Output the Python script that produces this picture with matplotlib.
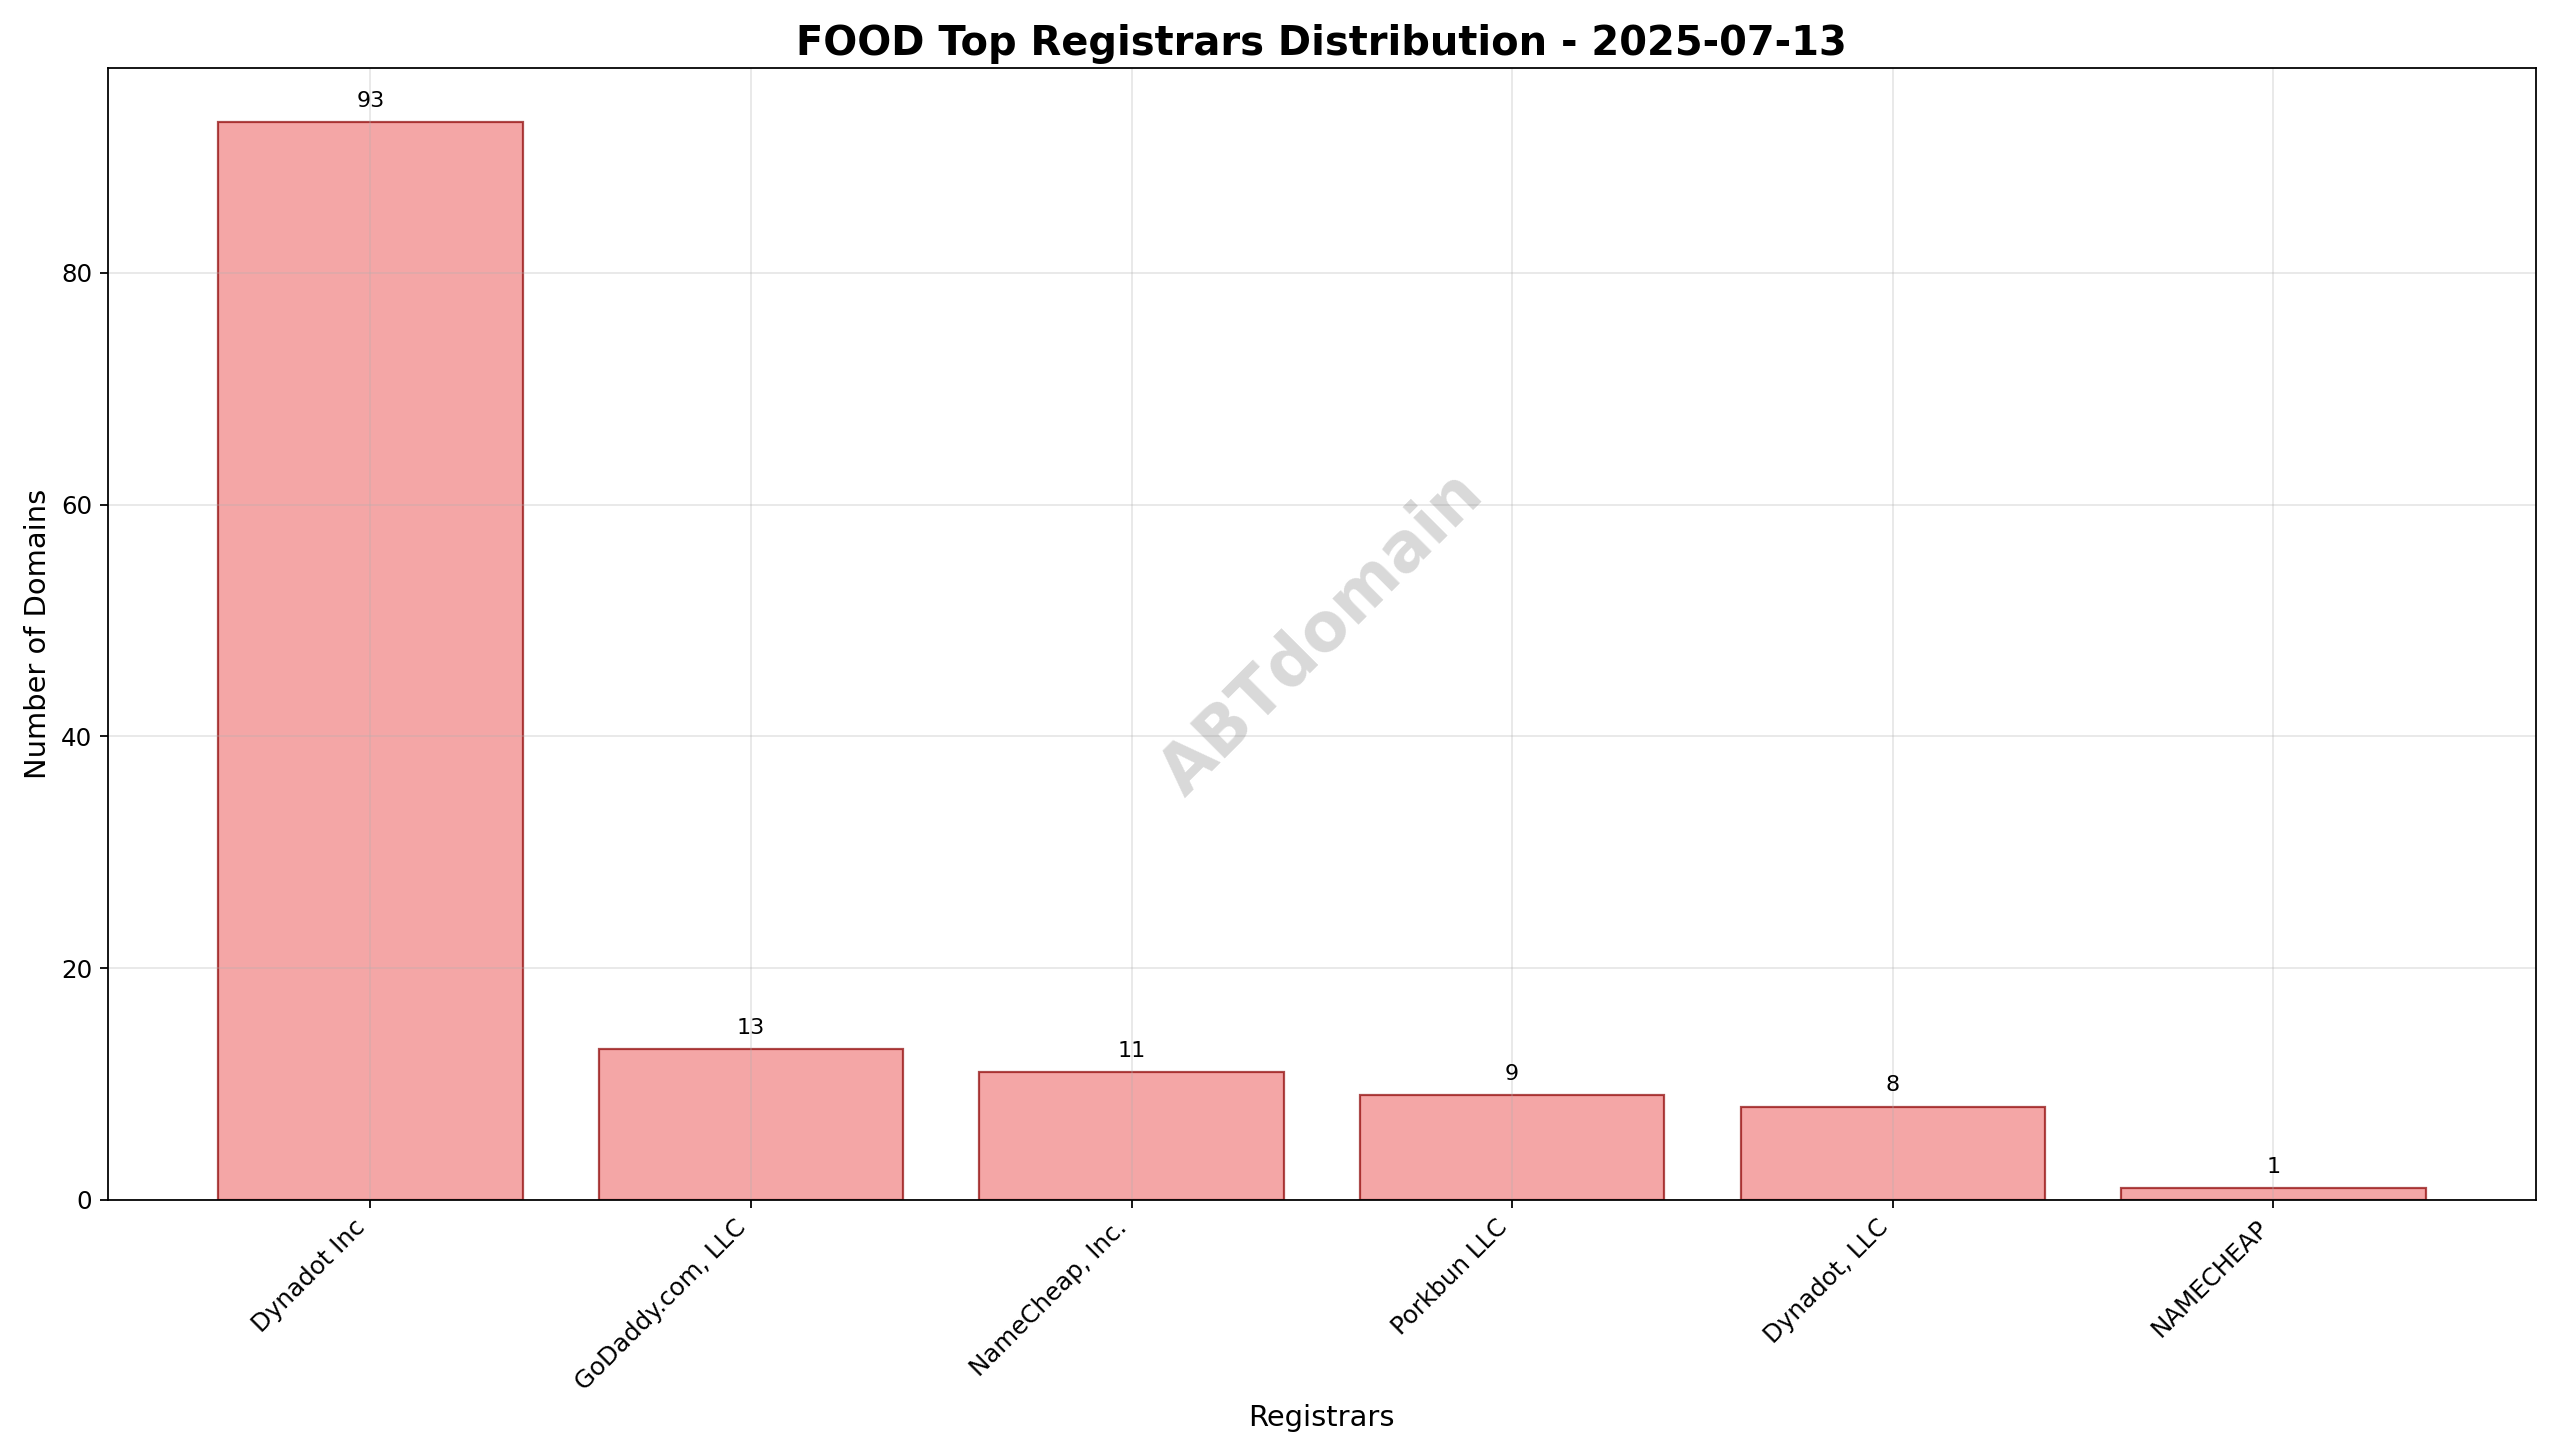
import matplotlib.pyplot as plt

registrars = ["Dynadot Inc", "GoDaddy.com, LLC", "NameCheap, Inc.", "Porkbun LLC", "Dynadot, LLC", "NAMECHEAP"]
counts = [93, 13, 11, 9, 8, 1]

fig, ax = plt.subplots(figsize=(16, 9.1), dpi=160)
bars = ax.bar(registrars, counts, color="lightcoral", alpha=0.7, edgecolor="darkred", linewidth=1)
for b, v in zip(bars, counts):
    ax.text(b.get_x() + b.get_width() / 2, b.get_height() + 1, str(v), ha="center", va="bottom", fontsize=10)

ax.set_title("FOOD Top Registrars Distribution - 2025-07-13", fontsize=18, fontweight="bold")
ax.set_xlabel("Registrars", fontsize=13)
ax.set_ylabel("Number of Domains", fontsize=13)
ax.tick_params(labelsize=11)
ax.grid(True, alpha=0.3)
plt.setp(ax.get_xticklabels(), rotation=45, ha="right")
ax.text(0.5, 0.5, "ABTdomain", transform=ax.transAxes, fontsize=30, color="gray",
        alpha=0.3, ha="center", va="center", rotation=45, fontweight="bold")
plt.tight_layout()
plt.savefig("out.png")
